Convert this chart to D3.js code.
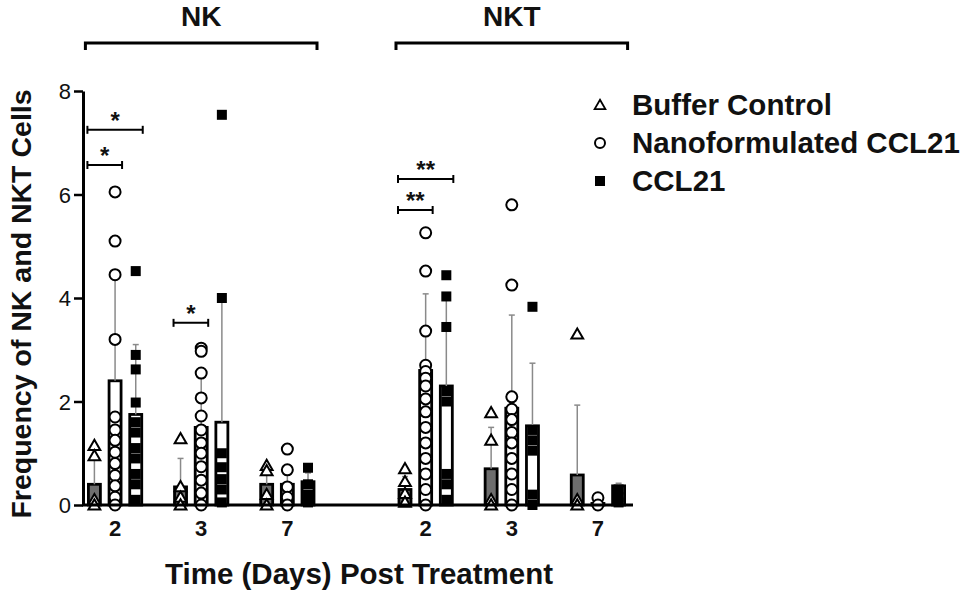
<!DOCTYPE html>
<html lang="en">
<head>
  <meta charset="UTF-8">
  <title>NK and NKT Cells</title>
  <script src="https://d3js.org/d3.v7.min.js"></script>
  <style>
    body { margin: 0; background: #fff; font-family: "Liberation Sans", Arial, sans-serif; }
    text { font-family: "Liberation Sans", Arial, sans-serif; fill: #111; }
  </style>
</head>
<body>
  <div id="chart"></div>
  <script>
    // groups and labels
    const panels = ["NK", "NKT"];
    const days = ["2", "3", "7"];
    const treatments = ["Buffer Control", "Nanoformulated CCL21", "CCL21"];
    const yTicks = [0, 2, 4, 6, 8];

    // bar means [day][treatment]
    const nkMeans = [[0.4, 2.4, 1.75], [0.35, 1.5, 1.6], [0.4, 0.4, 0.45]];
    const nktMeans = [[0.3, 2.6, 2.3], [0.7, 1.87, 1.53], [0.58, 0.03, 0.37]];

    // SD (upper error bar only)
    const nkSD = [[0.55, 2.0, 1.35], [0.55, 1.05, 2.4], [0.3, 0.35, 0.17]];
    const nktSD = [[0.25, 1.48, 1.8], [0.8, 1.8, 1.21], [1.35, 0.05, 0.05]];

    // individual points [day][treatment][...]
    const nkPoints = [
      [[1.15, 0.95, 0.1, 0],
       [6.05, 5.1, 4.45, 3.2, 1.7, 1.45, 1.25, 1.02, 0.8, 0.57, 0.37, 0.15, 0],
       [4.52, 2.9, 2.62, 1.98, 1.6, 1.4, 1.1, 0.9, 0.6, 0.4, 0.1]],
      [[1.28, 0.35, 0.15, 0],
       [3.03, 2.97, 2.55, 2.07, 1.72, 1.45, 1.2, 1.0, 0.74, 0.48, 0.23, 0],
       [7.54, 4.0, 1.0, 0.73, 0.5, 0.3, 0.05]],
      [[0.76, 0.66, 0.2, 0],
       [1.08, 0.68, 0.35, 0.15, 0],
       [0.72, 0.4, 0.2, 0.05]]
    ];
    const nktPoints = [
      [[0.7, 0.45, 0.22, 0.05],
       [5.26, 4.52, 3.36, 2.7, 2.58, 2.45, 2.3, 2.05, 1.8, 1.5, 1.2, 0.9, 0.6, 0.3, 0],
       [4.44, 4.03, 3.44, 2.2, 2.0, 0.6, 0.4, 0.1]],
      [[1.78, 1.25, 0.1, 0],
       [5.8, 4.25, 2.09, 1.85, 1.65, 1.4, 1.2, 0.9, 0.6, 0.3, 0],
       [3.83, 1.45, 1.25, 1.05, 0.2, 0]],
      [[3.3, 0.1, 0],
       [0.14, 0],
       [0.3, 0.15, 0.05]]
    ];

    // significance brackets
    const sigPanel = ["NK", "NK", "NK", "NKT", "NKT"];
    const sigDay = ["2", "2", "3", "2", "2"];
    const sigTo = [2, 1, 1, 2, 1];
    const sigY = [7.25, 6.57, 3.52, 6.3, 5.7];
    const sigLabel = ["*", "*", "*", "**", "**"];

    const means = { NK: nkMeans, NKT: nktMeans };
    const sds = { NK: nkSD, NKT: nktSD };
    const points = { NK: nkPoints, NKT: nktPoints };

    const width = 965, height = 591;
    const svg = d3.select("#chart").append("svg")
      .attr("width", width).attr("height", height);

    const y = d3.scaleLinear().domain([0, 8]).range([505, 91]);

    const xPanel = d3.scaleBand().domain(panels).range([72, 641]).paddingInner(0.168);
    const xDay = d3.scaleBand().domain(days).range([0, xPanel.bandwidth()]);
    const xTrt = d3.scaleBand().domain(treatments).range([-31, 31]);
    const barW = 12;

    const cx = (p, d, t) => xPanel(p) + xDay(d) + xDay.bandwidth() / 2 + xTrt(t) + xTrt.bandwidth() / 2;
    const dayX = (p, d) => xPanel(p) + xDay(d) + xDay.bandwidth() / 2;

    // flat table for drawing
    const rows = [];
    panels.forEach(p => days.forEach((d, di) => treatments.forEach((t, ti) => {
      rows.push({ p, d, t, ti, mean: means[p][di][ti], sd: sds[p][di][ti], pts: points[p][di][ti] });
    })));

    const barFill = ["#6e6e6e", "#fff", "#fff"];

    // bars
    svg.append("g").selectAll("rect").data(rows).join("rect")
      .attr("x", r => cx(r.p, r.d, r.t) - barW / 2)
      .attr("y", r => y(r.mean))
      .attr("width", barW)
      .attr("height", r => y(0) - y(r.mean))
      .attr("fill", r => barFill[r.ti])
      .attr("stroke", "#000")
      .attr("stroke-width", 2.8);

    // error bars
    const eg = svg.append("g").attr("stroke", "#8a8a8a").attr("stroke-width", 1.5);
    rows.forEach(r => {
      const x0 = cx(r.p, r.d, r.t);
      eg.append("line").attr("x1", x0).attr("x2", x0)
        .attr("y1", y(r.mean)).attr("y2", y(r.mean + r.sd));
      eg.append("line").attr("x1", x0 - 3).attr("x2", x0 + 3)
        .attr("y1", y(r.mean + r.sd)).attr("y2", y(r.mean + r.sd));
    });

    // points
    const tri = d3.symbol().type(d3.symbolTriangle).size(60);
    const pg = svg.append("g");
    rows.forEach(r => {
      const x0 = cx(r.p, r.d, r.t);
      r.pts.forEach(v => {
        if (r.ti === 0) {
          pg.append("path").attr("d", tri)
            .attr("transform", `translate(${x0},${y(v) + 1})`)
            .attr("fill", "#fff").attr("stroke", "#000").attr("stroke-width", 2);
        } else if (r.ti === 1) {
          pg.append("circle").attr("cx", x0).attr("cy", y(v)).attr("r", 5.5)
            .attr("fill", "#fff").attr("stroke", "#000").attr("stroke-width", 2);
        } else {
          pg.append("rect").attr("x", x0 - 5).attr("y", y(v) - 5)
            .attr("width", 10).attr("height", 10).attr("fill", "#000");
        }
      });
    });

    // y axis
    const yAxis = svg.append("g").attr("transform", "translate(83,0)")
      .call(d3.axisLeft(y).tickValues(yTicks).tickSize(9).tickSizeOuter(0).tickPadding(3));
    yAxis.select(".domain").attr("stroke-width", 3);
    yAxis.selectAll(".tick line").attr("stroke-width", 2.5);
    yAxis.selectAll(".tick text").attr("font-size", 22).attr("dy", "0.36em")
      .style("font-family", "'Liberation Sans', Arial, sans-serif");

    // x axis line and day labels
    svg.append("line").attr("x1", 82).attr("x2", 633)
      .attr("y1", y(0)).attr("y2", y(0)).attr("stroke", "#000").attr("stroke-width", 3);
    panels.forEach(p => days.forEach(d => {
      svg.append("text").attr("x", dayX(p, d)).attr("y", 536)
        .attr("text-anchor", "middle").attr("font-size", 22).attr("font-weight", "bold").text(d);
    }));

    // significance brackets
    sigLabel.forEach((lab, i) => {
      const x1 = cx(sigPanel[i], sigDay[i], treatments[0]) - 7;
      const x2 = cx(sigPanel[i], sigDay[i], treatments[sigTo[i]]) + 7;
      const yy = y(sigY[i]);
      const g = svg.append("g").attr("stroke", "#000").attr("stroke-width", 2);
      g.append("line").attr("x1", x1).attr("x2", x2).attr("y1", yy).attr("y2", yy);
      g.append("line").attr("x1", x1).attr("x2", x1).attr("y1", yy - 4).attr("y2", yy + 4);
      g.append("line").attr("x1", x2).attr("x2", x2).attr("y1", yy - 4).attr("y2", yy + 4);
      svg.append("text").attr("x", (x1 + x2) / 2).attr("y", yy - 1)
        .attr("text-anchor", "middle").attr("font-size", 24).attr("font-weight", "bold").text(lab);
    });

    // panel headers
    panels.forEach(p => {
      const x1 = cx(p, days[0], treatments[0]) - 9;
      const x2 = cx(p, days[2], treatments[2]) + 9;
      svg.append("path")
        .attr("d", `M${x1},50V43H${x2}V50`)
        .attr("fill", "none").attr("stroke", "#000").attr("stroke-width", 3);
      svg.append("text").attr("x", (x1 + x2) / 2).attr("y", 26)
        .attr("text-anchor", "middle").attr("font-size", 28).attr("font-weight", "bold").text(p);
    });

    // axis titles
    svg.append("text").attr("x", 359).attr("y", 584).attr("text-anchor", "middle")
      .attr("font-size", 29.5).attr("font-weight", "bold").text("Time (Days) Post Treatment");
    svg.append("text").attr("transform", "translate(31,304) rotate(-90)")
      .attr("text-anchor", "middle").attr("font-size", 28.5).attr("font-weight", "bold")
      .text("Frequency of NK and NKT Cells");

    // legend
    const lg = svg.append("g");
    const legY = [105, 143, 181];
    treatments.forEach((t, i) => {
      const lx = 600, ly = legY[i];
      if (i === 0) {
        lg.append("path").attr("d", d3.symbol().type(d3.symbolTriangle).size(50))
          .attr("transform", `translate(${lx},${ly + 1})`)
          .attr("fill", "#fff").attr("stroke", "#000").attr("stroke-width", 1.8);
      } else if (i === 1) {
        lg.append("circle").attr("cx", lx).attr("cy", ly).attr("r", 5)
          .attr("fill", "#fff").attr("stroke", "#000").attr("stroke-width", 2);
      } else {
        lg.append("rect").attr("x", lx - 5).attr("y", ly - 5).attr("width", 10).attr("height", 10).attr("fill", "#000");
      }
      lg.append("text").attr("x", 632).attr("y", ly + 10)
        .attr("font-size", 29.5).attr("font-weight", "bold").text(t);
    });
  </script>
</body>
</html>
